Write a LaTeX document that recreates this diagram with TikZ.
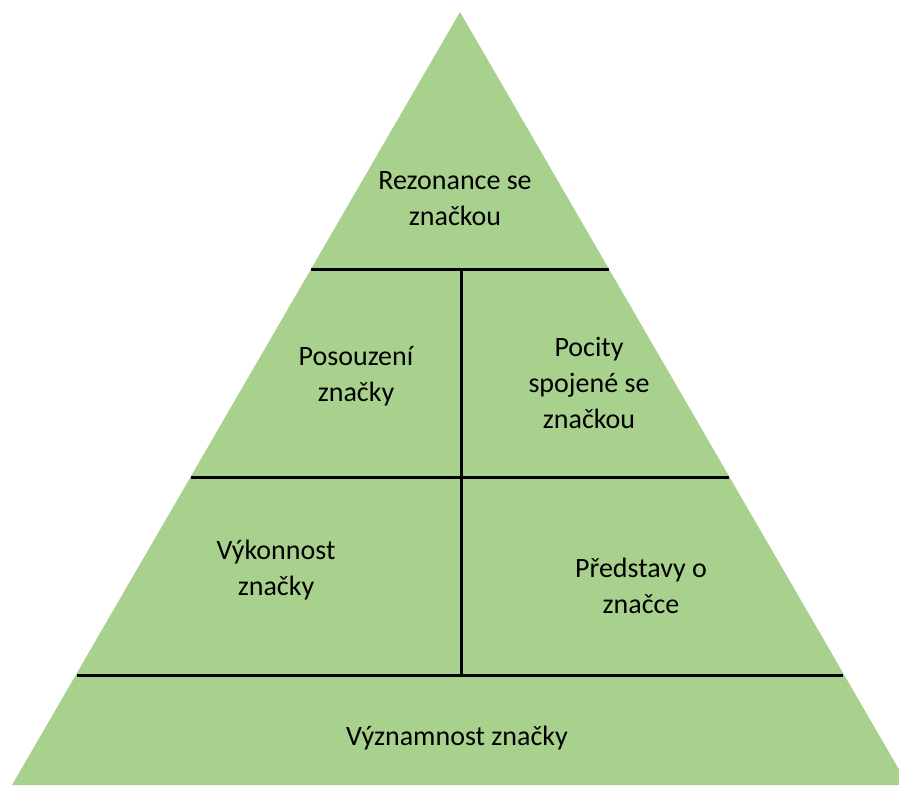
\documentclass[tikz,border=0pt]{standalone}
\usepackage{fontspec}
\setmainfont{Carlito}
\definecolor{pyrgreen}{HTML}{A9D18E}
\begin{document}
\begin{tikzpicture}[x=1pt,y=-1pt,
  divider/.style={draw=black,line width=3pt},
  label/.style={align=center,text=black,inner sep=0pt,
    font=\fontsize{28}{36}\selectfont}]
\useasboundingbox (0,0) rectangle (899,785);
\begin{scope}
  \clip (0,0) rectangle (899,785);
  % pyramid body
  \fill[pyrgreen] (460,12) -- (12,785) -- (908,785) -- cycle;
\end{scope}
% level dividers, edge to edge
\coordinate (l1) at (311,269);  \coordinate (r1) at (609,269);
\coordinate (l2) at (191,477);  \coordinate (r2) at (729,477);
\coordinate (l3) at (77,675);   \coordinate (r3) at (843,675);
\coordinate (vt) at (461,269);  \coordinate (vb) at (461,675);
\draw[divider] (l1) -- (r1);
\draw[divider] (l2) -- (r2);
\draw[divider] (l3) -- (r3);
\draw[divider] (vt) -- (vb);
% level labels
\node[label] (rez) at (455,199) {Rezonance se\\značkou};
\node[label] (pos) at (356,376) {Posouzení\\značky};
\node[label] (poc) at (589,383) {Pocity\\spojené se\\značkou};
\node[label] (vyk) at (276,570) {Výkonnost\\značky};
\node[label] (pre) at (641,586) {Představy o\\značce};
\node[label] (vyz) at (457,738) {Významnost značky};
\end{tikzpicture}
\end{document}
